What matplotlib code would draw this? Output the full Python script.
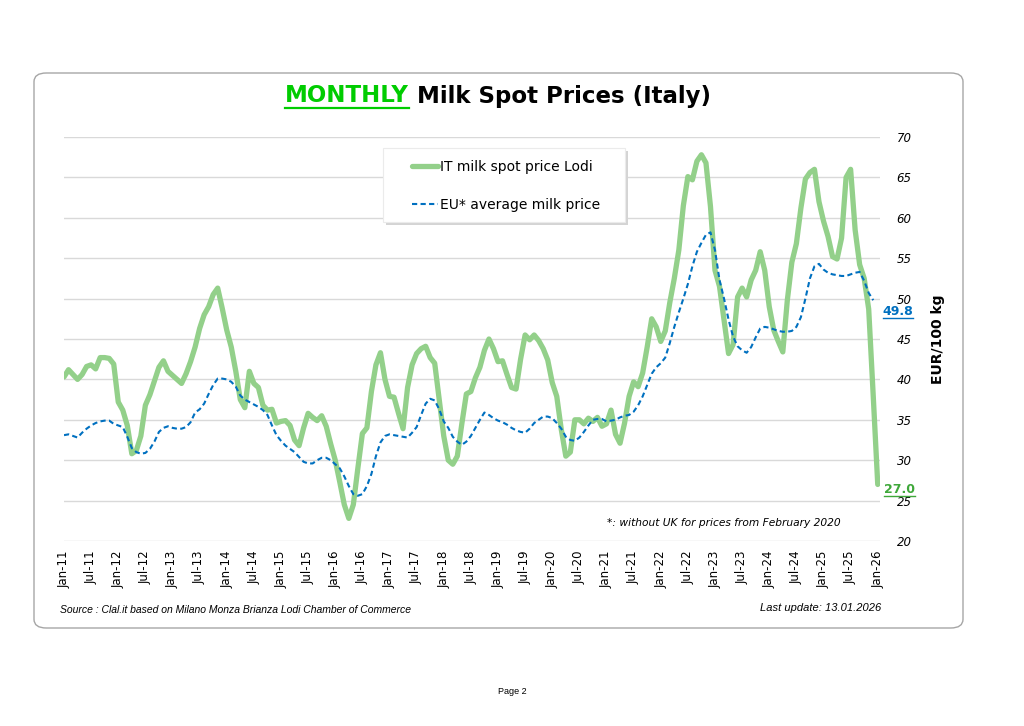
import matplotlib
matplotlib.use('Agg')
import matplotlib.pyplot as plt
from matplotlib.patches import FancyBboxPatch, Rectangle
from matplotlib.lines import Line2D
import numpy as np

# monthly prices, Jan-11 .. Jan-26 (EUR/100 kg)
it_lodi = [
    40.3, 41.2, 40.6, 40.0, 40.6, 41.6, 41.8, 41.3, 42.7, 42.7, 42.6, 41.9,  # 2011
    37.2, 36.2, 34.3, 30.8, 31.2, 33.0, 36.8, 38.1, 39.8, 41.5, 42.3, 41.0,  # 2012
    40.5, 40.0, 39.5, 40.7, 42.2, 44.0, 46.3, 48.0, 49.0, 50.5, 51.3, 48.8,  # 2013
    46.1, 44.0, 41.0, 37.5, 36.5, 41.0, 39.5, 39.0, 36.8, 36.2, 36.3, 34.6,  # 2014
    34.8, 34.9, 34.3, 32.5, 31.8, 34.0, 35.8, 35.3, 34.9, 35.5, 34.2, 32.0,  # 2015
    30.0, 27.3, 24.5, 22.8, 24.5, 29.0, 33.3, 34.0, 38.5, 41.8, 43.3, 40.0,  # 2016
    37.9, 37.8, 35.8, 33.9, 39.0, 41.8, 43.2, 43.8, 44.1, 42.7, 42.0, 37.5,  # 2017
    33.0, 30.0, 29.5, 30.5, 34.5, 38.2, 38.5, 40.2, 41.5, 43.6, 45.0, 43.8,  # 2018
    42.2, 42.3, 40.6, 39.0, 38.8, 42.5, 45.5, 44.9, 45.5, 44.8, 43.8, 42.4,  # 2019
    39.6, 37.9, 33.8, 30.5, 31.0, 35.0, 35.0, 34.5, 35.2, 34.8, 35.3, 34.2,  # 2020
    34.5, 36.2, 33.2, 32.1, 34.6, 37.9, 39.7, 39.1, 40.8, 44.0, 47.5, 46.5,  # 2021
    44.7, 46.0, 49.5, 52.5, 56.0, 61.5, 65.1, 64.7, 67.0, 67.8, 66.8, 61.4,  # 2022
    53.5, 51.5, 47.4, 43.2, 44.3, 50.2, 51.3, 50.2, 52.3, 53.5, 55.8, 53.5,  # 2023
    49.0, 46.1, 44.7, 43.4, 49.8, 54.5, 56.8, 61.2, 64.8, 65.6, 66.0, 62.0,  # 2024
    59.6, 57.7, 55.2, 54.9, 57.5, 65.0, 66.0, 58.5, 54.2, 52.5, 48.7, 38.0,  # 2025
    27.0,                                                                    # Jan-26
]

eu_avg = [
    33.1, 33.2, 33.0, 32.8, 33.4, 33.9, 34.3, 34.6, 34.8, 34.9, 34.9, 34.5,
    34.3, 34.1, 32.9, 31.5, 31.0, 30.8, 30.9, 31.4, 32.3, 33.5, 34.0, 34.2,
    34.0, 33.9, 33.9, 34.1, 34.7, 35.9, 36.3, 37.0, 38.2, 39.3, 40.1, 40.1,
    40.0, 39.7, 39.1, 38.0, 37.5, 37.2, 36.9, 36.6, 36.2, 35.6, 34.3, 33.1,
    32.4, 31.8, 31.4, 31.0, 30.4, 29.8, 29.6, 29.6, 30.0, 30.3, 30.3, 30.0,
    29.5, 29.0, 28.0, 26.8, 25.8, 25.6, 25.8, 26.8, 28.3, 30.5, 32.2, 33.0,
    33.2, 33.1, 33.0, 32.9, 32.8, 33.4, 34.1, 35.6, 37.0, 37.6, 37.4, 36.3,
    34.8, 34.0, 32.9, 32.3, 31.9, 32.3, 33.0, 34.0, 35.0, 35.9, 35.6, 35.2,
    34.9, 34.7, 34.4, 34.0, 33.7, 33.5, 33.4, 33.9, 34.6, 35.0, 35.4, 35.4,
    35.2, 34.6, 33.9, 32.9, 32.5, 32.4, 32.8, 33.5, 34.3, 35.0, 35.1, 35.1,
    34.8, 34.9, 35.0, 35.3, 35.5, 35.6, 36.0, 36.8, 37.9, 39.3, 40.7, 41.5,
    42.0, 42.7, 44.5, 46.5, 48.3, 50.0, 51.8, 54.0, 55.8, 56.9, 57.9, 58.2,
    56.0, 52.3, 50.0, 47.4, 45.3, 44.1, 43.6, 43.3, 44.0, 45.2, 46.3, 46.5,
    46.4, 46.2, 46.0, 45.9, 45.9, 46.0, 46.5, 47.7, 50.0, 52.5, 54.0, 54.3,
    53.6, 53.2, 53.0, 52.9, 52.8, 52.8, 53.0, 53.2, 53.3, 52.2, 50.7, 49.8,
]

years = list(range(11, 27))
tick_labels = []
for y in years:
    tick_labels.append('Jan-%02d' % y)
    if y < 26:
        tick_labels.append('Jul-%02d' % y)

GREEN = '#93D08A'
BLUE = '#0070C0'

fig = plt.figure(figsize=(10.24, 7.26), dpi=100)
W, H = 1024, 726

# rounded frame around the chart
frame = FancyBboxPatch((34 / W, 1 - 628 / H), (963 - 34) / W, (628 - 73) / H,
                       boxstyle='round,pad=0,rounding_size=0.012',
                       transform=fig.transFigure, facecolor='none',
                       edgecolor='#A6A6A6', linewidth=1.0, zorder=-1)
fig.patches.append(frame)

ax = fig.add_axes([64 / W, 1 - 541 / H, (880 - 64) / W, (541 - 137) / H])
ax.set_facecolor('none')

x_it = np.arange(len(it_lodi))
x_eu = np.arange(len(eu_avg))
ax.plot(x_it, it_lodi, color=GREEN, lw=3.8, solid_capstyle='round',
        solid_joinstyle='round', zorder=3, label='IT milk spot price Lodi')
ax.plot(x_eu, eu_avg, color=BLUE, lw=1.5, ls=(0, (2.5, 1.6)), zorder=4,
        label='EU* average milk price')

ax.set_xlim(0, 180.5)
ax.set_ylim(20, 70)
ax.set_yticks(range(20, 71, 5))
ax.yaxis.tick_right()
ax.tick_params(axis='y', length=0, pad=12, labelsize=8.5)
for t in ax.get_yticklabels():
    t.set_fontstyle('italic')
ax.set_xticks(range(0, 181, 6))
ax.set_xticklabels(tick_labels, rotation=90, fontsize=8.5)
ax.tick_params(axis='x', length=0, pad=7)
ax.grid(axis='y', color='#D9D9D9', lw=1)
ax.set_axisbelow(True)
for s in ax.spines.values():
    s.set_visible(False)

ax.yaxis.set_label_position('right')
ax.set_ylabel('EUR/100 kg', fontsize=10, fontweight='bold', labelpad=14)

# legend box with soft shadow, legend itself drawn without frame on top
shadow = Rectangle((386 / W, 1 - 225 / H), (625 - 383) / W, (222 - 148) / H,
                   transform=fig.transFigure, facecolor='#D4D4D4',
                   edgecolor='none', zorder=5)
box = Rectangle((383 / W, 1 - 222 / H), (625 - 383) / W, (222 - 148) / H,
                transform=fig.transFigure, facecolor='white',
                edgecolor='#EBEBEB', lw=0.8, zorder=6)
fig.add_artist(shadow)
fig.add_artist(box)
leg = ax.legend(loc='upper left', bbox_to_anchor=(412 / W, 1 - 160 / H),
                bbox_transform=fig.transFigure, fontsize=10, frameon=False,
                handlelength=1.9, handletextpad=0.15, labelspacing=1.75,
                borderpad=0, borderaxespad=0)
leg.set_zorder(7)
fig.legends.append(leg)
ax.get_legend().remove()

# last value labels
eu_txt = ax.text(184.5, eu_avg[-1] - 1.4, '%.1f' % eu_avg[-1], color=BLUE,
                 fontsize=9, fontweight='bold', ha='center', va='center',
                 clip_on=False)
it_txt = ax.text(184.8, it_lodi[-1] - 0.6, '%.1f' % it_lodi[-1], color='#3FA83A',
                 fontsize=9, fontweight='bold', ha='center', va='center',
                 clip_on=False)

ax.text(841 / W, 1 - 523 / H, '*: without UK for prices from February 2020',
        transform=fig.transFigure, ha='right', va='center', fontsize=7.65,
        fontstyle='italic')

fig.text(60 / W, 1 - 610 / H,
         'Source : Clal.it based on Milano Monza Brianza Lodi Chamber of Commerce',
         ha='left', va='center', fontsize=7.5, fontstyle='italic',
         family=['Liberation Sans Narrow', 'Liberation Sans'])
fig.text(881 / W, 1 - 608 / H, 'Last update: 13.01.2026', ha='right',
         va='center', fontsize=8, fontstyle='italic',
         family=['Liberation Sans Narrow', 'Liberation Sans'])
fig.text(512 / W, 1 - 691 / H, 'Page 2', ha='center', va='center', fontsize=6.5,
         family=['Liberation Sans', 'DejaVu Sans'])

# title in two colours, "MONTHLY" underlined
t1 = fig.text(0, 1 - 96 / H, 'MONTHLY', color='#00CC00', fontsize=16.5,
              fontweight='bold', va='center', ha='left')
t2 = fig.text(0, 1 - 96 / H, ' Milk Spot Prices (Italy)', color='black',
              fontsize=16.5, fontweight='bold', va='center', ha='left')

fig.canvas.draw()
r = fig.canvas.get_renderer()
w1 = t1.get_window_extent(r).width
w2 = t2.get_window_extent(r).width
x0 = 498 - (w1 + w2) / 2
t1.set_x(x0 / W)
t2.set_x((x0 + w1) / W)
fig.canvas.draw()


def underline(txt, color, lw, gap=1.5):
    bb = txt.get_window_extent(r)
    y = (bb.y0 - gap) / H
    fig.add_artist(Line2D([bb.x0 / W, bb.x1 / W], [y, y], color=color, lw=lw,
                          transform=fig.transFigure))


underline(t1, '#00CC00', 1.6, 0.5)
underline(eu_txt, BLUE, 1.0, 0.0)
underline(it_txt, '#3FA83A', 1.0, 0.0)

fig.savefig('out.png', dpi=100, facecolor='white')
